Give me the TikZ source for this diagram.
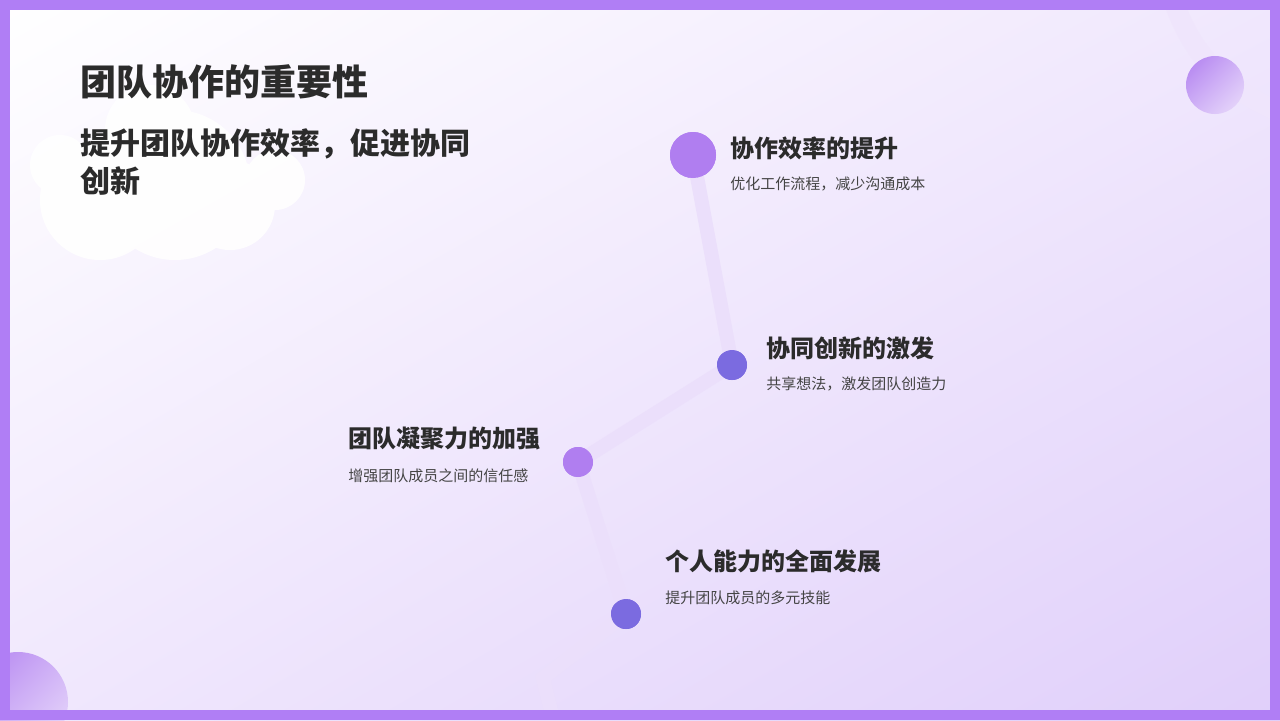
\documentclass[tikz,border=0pt]{standalone}
\usepackage{fontspec}
\setmainfont{Noto Sans CJK SC}
\usetikzlibrary{shadings}
\definecolor{frame}{HTML}{B07EF5}
\definecolor{bgA}{HTML}{FBF8FF}
\definecolor{bgB}{HTML}{E0CFFA}
\definecolor{dotA}{HTML}{B07EF0}
\definecolor{dotB}{HTML}{7B6BE0}
\definecolor{txt}{HTML}{2B2B2B}
\definecolor{sub}{HTML}{444444}
\tikzset{
  head/.style={anchor=west,font=\bfseries\fontsize{12}{14}\selectfont,text=txt,inner sep=0},
  desc/.style={anchor=west,font=\fontsize{7.5}{9}\selectfont,text=sub,inner sep=0},
  link/.style={line width=7pt,draw=dotA!25},
}
\begin{document}
\begin{tikzpicture}[x=0.5pt,y=-0.5pt]
\useasboundingbox (0,0) rectangle (1280,720);
\shade[left color=bgA,right color=bgB,shading angle=135] (0,0) rectangle (1280,720);
\path[shade,upper left=white,lower right=bgB,upper right=bgA!60!bgB,lower left=bgA!60!bgB] (0,0) rectangle (1280,720);
% cloud
\fill[white,opacity=0.9] (100,200) circle (60) (175,185) circle (75) (230,205) circle (45) (275,180) circle (30) (60,165) circle (30) (150,130) circle (45);
% top-right decoration
\draw[line width=10pt,draw=dotA!20] (1175,5) .. controls (1195,60) and (1230,90) .. (1275,110);
\shade[upper left=dotA,lower right=dotA!25,upper right=dotA!60,lower left=dotA!60] (1215,85) circle (29);
\shade[upper left=dotA,lower right=dotA!25,upper right=dotA!60,lower left=dotA!60] (18,702) circle (50);
% path
\coordinate (c0) at (552,715);
\coordinate (c1) at (543,678);
\node[circle,fill=dotA,minimum size=23pt,inner sep=0] (n1) at (693,155) {};
\node[circle,fill=dotB,minimum size=15pt,inner sep=0] (n2) at (732,365) {};
\node[circle,fill=dotA,minimum size=15pt,inner sep=0] (n3) at (578,462) {};
\node[circle,fill=dotB,minimum size=15pt,inner sep=0] (n4) at (626,614) {};
\begin{scope}[on background layer/.style={}]
\end{scope}
\draw[link] (c0) -- (c1) -- (n4.center) -- (n3.center) -- (n2.center) -- (n1.center);
\node[circle,fill=dotA,minimum size=23pt,inner sep=0] at (n1) {};
\node[circle,fill=dotB,minimum size=15pt,inner sep=0] at (n2) {};
\node[circle,fill=dotA,minimum size=15pt,inner sep=0] at (n3) {};
\node[circle,fill=dotB,minimum size=15pt,inner sep=0] at (n4) {};
% frame
\draw[frame,line width=5pt] (5,5) rectangle (1275,715);
% texts
\node[anchor=west,inner sep=0,text=txt,font=\bfseries\fontsize{18}{20}\selectfont] (t) at (80,82) {团队协作的重要性};
\node[anchor=north west,inner sep=0,text=txt,align=left,font=\bfseries\fontsize{15}{19}\selectfont] (s) at (80,128) {提升团队协作效率，促进协同\\创新};
\node[head] (h1) at (730,148) {协作效率的提升};
\node[desc] (d1) at (730,184) {优化工作流程，减少沟通成本};
\node[head] (h2) at (766,348) {协同创新的激发};
\node[desc] (d2) at (766,384) {共享想法，激发团队创造力};
\node[head] (h3) at (348,438) {团队凝聚力的加强};
\node[desc] (d3) at (348,476) {增强团队成员之间的信任感};
\node[head] (h4) at (665,561) {个人能力的全面发展};
\node[desc] (d4) at (665,598) {提升团队成员的多元技能};
\end{tikzpicture}
\end{document}
